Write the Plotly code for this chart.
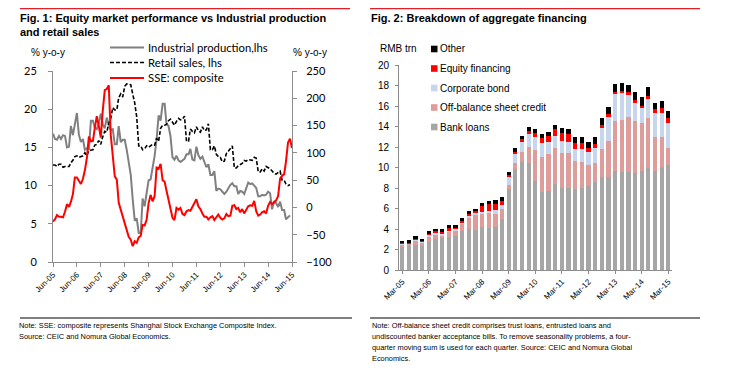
import plotly.graph_objects as go
import pandas as pd

# target page geometry (browser window) and the 8px page margin around the figure
W, H = 732, 389
OFF = 8
FW, FH = W - 2 * OFF, H - 2 * OFF

# ---------------- Fig. 1 data (monthly, Jun-05 .. Jun-15) ----------------
months = pd.date_range("2005-06-01", "2015-06-01", freq="MS")

industrial_production = [
    16.8, 16.1, 16.0, 16.5, 16.1, 16.6, 16.5,                                   # 2005 Jun-Dec
    15.0, 15.1, 17.8, 16.6, 17.9, 19.5, 16.7, 15.7, 16.1, 14.7, 14.9, 14.7,     # 2006
    18.5, 18.5, 17.6, 17.4, 18.1, 19.4, 18.0, 17.5, 18.9, 17.9, 17.3, 17.4,     # 2007
    15.4, 15.4, 17.8, 15.7, 16.0, 16.0, 14.7, 12.8, 11.4, 8.2, 5.4, 5.7,        # 2008
    3.8, 3.8, 8.3, 7.3, 8.9, 10.7, 10.8, 12.3, 13.9, 16.1, 19.2, 18.5,          # 2009
    20.7, 20.7, 18.1, 17.8, 16.5, 13.7, 13.4, 13.9, 13.3, 13.1, 13.3, 13.5,     # 2010
    14.1, 14.1, 14.8, 13.4, 13.3, 15.1, 14.0, 13.5, 13.8, 13.2, 12.4, 12.8,     # 2011
    11.4, 11.4, 11.9, 9.3, 9.6, 9.5, 9.2, 8.9, 9.2, 9.6, 10.1, 10.3,            # 2012
    9.9, 9.9, 8.9, 9.3, 9.2, 8.9, 9.7, 10.4, 10.2, 10.3, 10.0, 9.7,             # 2013
    8.6, 8.6, 8.8, 8.7, 8.8, 9.2, 9.0, 6.9, 8.0, 7.7, 7.2, 7.9,                 # 2014
    6.8, 6.8, 5.6, 5.9, 6.1, None,                                              # 2015 Jan-Jun
]

retail_sales = [
    12.7, 12.7, 12.5, 12.8, 12.8, 12.4, 12.5,
    12.5, 12.5, 13.0, 13.3, 13.8, 13.9, 13.7, 13.8, 13.9, 14.3, 13.9, 14.6,
    14.7, 14.7, 15.3, 15.4, 15.9, 15.4, 16.4, 17.1, 17.0, 18.1, 18.8, 20.2,
    19.9, 19.9, 21.5, 22.0, 21.6, 23.0, 23.3, 23.2, 23.2, 22.0, 20.8, 19.0,
    15.2, 15.2, 14.7, 14.8, 15.2, 15.0, 15.2, 15.4, 15.3, 16.2, 15.8, 17.5,
    17.9, 17.9, 18.0, 18.5, 18.7, 18.3, 17.9, 18.4, 18.8, 18.6, 18.7, 19.1,
    15.8, 15.8, 17.4, 17.1, 16.9, 17.7, 17.2, 17.0, 17.7, 17.2, 17.3, 18.1,
    14.7, 14.7, 15.2, 14.1, 13.8, 13.7, 13.1, 13.2, 14.2, 14.5, 14.9, 15.2,
    12.3, 12.3, 12.6, 12.8, 12.9, 13.3, 13.2, 13.4, 13.3, 13.3, 13.7, 13.6,
    11.8, 11.8, 12.2, 11.9, 12.5, 12.4, 12.2, 11.9, 11.6, 11.5, 11.7, 11.9,
    10.7, 10.7, 10.2, 10.0, 10.1, None,
]

sse_composite = [
    -26, -22, -14, -17, -17, -18, -8,
    6, 1, 10, 24, 55, 55, 49, 43, 52, 68, 91, 130,
    121, 122, 145, 167, 150, 128, 177, 215, 217, 224, 132, 97,
    57, 51, 9, -4, -16, -28, -38, -54, -59, -71, -62, -65,
    -55, -52, -32, -33, -23, 8, 23, 11, 21, 73, 71, 80,
    50, 47, 31, 16, -2, -19, -23, -1, -4, -1, -12, -14,
    -7, -5, -6, 1, 6, 15, 2, -3, -11, -17, -17, -22,
    -18, -16, -23, -18, -13, -19, -22, -20, -12, -16, -15, 3,
    4, -3, -1, -9, -3, -11, -5, 2, 4, 3, 12, -7,
    -15, -13, -9, -7, -11, 3, 10, 6, 9, 13, 21, 53,
    58, 61, 84, 119, 126, 109,
]

left_tick_labels = ["Jun-05", "Jun-06", "Jun-07", "Jun-08", "Jun-09", "Jun-10",
                    "Jun-11", "Jun-12", "Jun-13", "Jun-14", "Jun-15"]

# ---------------- Fig. 2 data (quarterly, Mar-05 .. Mar-15, RMB trn) ----------------
quarters = list(range(1, 42))
bank_loans = [2.28, 2.34, 2.47, 2.34, 2.83, 3.06, 3.15, 3.19, 3.35, 3.84, 4.0, 3.9, 4.2, 4.13,
              4.16, 4.94, 7.87, 9.82, 10.57, 10.41, 8.72, 7.58, 7.71, 8.36, 7.97, 8.03, 7.9,
              7.97, 8.2, 8.62, 9.04, 9.1, 9.69, 9.59, 9.59, 9.43, 9.69, 9.92, 9.69, 10.02, 10.24]
off_balance = [0.22, 0.23, 0.39, 0.33, 0.36, 0.32, 0.2, 0.55, 0.45, 0.65, 1.05, 1.45, 1.3, 1.4,
               1.3, 0.98, 0.45, 0.59, 0.97, 1.62, 2.99, 3.48, 3.57, 3.57, 3.41, 3.35, 2.77,
               2.6, 2.04, 1.78, 2.73, 3.52, 4.88, 5.04, 5.3, 5.14, 4.62, 4.88, 3.31, 2.92, 1.63]
corporate_bond = [0.05, 0.05, 0.1, 0.1, 0.23, 0.29, 0.25, 0.16, 0.2, 0.19, 0.2, 0.2, 0.17, 0.26,
                  0.44, 0.42, 0.8, 0.97, 0.98, 1.24, 1.23, 1.3, 1.24, 1.14, 1.24, 1.14, 1.13,
                  1.2, 1.3, 1.53, 2.12, 2.28, 2.57, 2.61, 2.18, 1.76, 1.46, 1.85, 2.35, 2.41, 2.44]
equity_financing = [0.05, 0.05, 0.07, 0.04, 0.1, 0.1, 0.1, 0.17, 0.13, 0.13, 0.25, 0.25, 0.6, 0.65,
                    0.5, 0.42, 0.17, 0.16, 0.23, 0.32, 0.46, 0.55, 0.55, 0.65, 0.71, 0.75, 0.56,
                    0.65, 0.33, 0.36, 0.26, 0.3, 0.26, 0.26, 0.26, 0.26, 0.23, 0.33, 0.32, 0.42, 0.49]
other = [0.26, 0.26, 0.25, 0.25, 0.28, 0.23, 0.27, 0.29, 0.26, 0.23, 0.22, 0.2, 0.28, 0.3,
         0.43, 0.33, 0.3, 0.33, 0.32, 0.39, 0.32, 0.33, 0.43, 0.43, 0.49, 0.49, 0.58,
         0.52, 0.65, 0.65, 0.65, 0.67, 0.71, 0.7, 0.75, 0.81, 0.85, 0.84, 0.66, 0.75, 0.74]
right_tick_labels = ["Mar-05", "Mar-06", "Mar-07", "Mar-08", "Mar-09", "Mar-10",
                     "Mar-11", "Mar-12", "Mar-13", "Mar-14", "Mar-15"]


def px(x):
    """window pixel x -> paper fraction"""
    return (x - OFF) / FW


def py(y):
    """window pixel y (from top) -> paper fraction"""
    return 1 - (y - OFF) / FH


AX = "#8C8C8C"
ARIAL = "Liberation Sans, Arial, sans-serif"
CAL = "Lato, sans-serif"

fig = go.Figure()

fig.add_trace(go.Scatter(x=months, y=industrial_production, mode="lines",
                         line=dict(color="#808080", width=2), xaxis="x", yaxis="y",
                         name="Industrial production,lhs"))
fig.add_trace(go.Scatter(x=months, y=retail_sales, mode="lines",
                         line=dict(color="#000000", width=1.6, dash="4px,2px"), xaxis="x", yaxis="y",
                         name="Retail sales, lhs"))
fig.add_trace(go.Scatter(x=months, y=sse_composite, mode="lines",
                         line=dict(color="#FF0000", width=2), xaxis="x", yaxis="y2",
                         name="SSE: composite"))

bar_series = [
    ("Bank loans", bank_loans, "#A6A6A6"),
    ("Off-balance sheet credit", off_balance, "#DE9C9A"),
    ("Corporate bond", corporate_bond, "#C6D6EE"),
    ("Equity financing", equity_financing, "#FF0000"),
    ("Other", other, "#000000"),
]
for name, vals, col in bar_series:
    fig.add_trace(go.Bar(x=quarters, y=vals, name=name, marker=dict(color=col, line=dict(width=0)),
                         xaxis="x3", yaxis="y3"))

axis_common = dict(showgrid=False, zeroline=False, showline=True, linecolor=AX, linewidth=1,
                   ticks="outside", tickcolor=AX, ticklen=4, tickwidth=1, automargin=False)

tick_dates = [months[i] for i in range(0, 121, 12)]

fig.update_layout(
    width=FW, height=FH, margin=dict(l=0, r=0, t=0, b=0, pad=0, autoexpand=False),
    paper_bgcolor="white", plot_bgcolor="white", showlegend=False,
    barmode="stack", bargap=0.36,
    xaxis=dict(axis_common, domain=[px(53), px(292)], anchor="y", type="date",
               range=[months[0], months[-1]], tickvals=tick_dates, ticktext=left_tick_labels,
               tickangle=-45, tickfont=dict(family=ARIAL, size=8, color="black")),
    yaxis=dict(axis_common, domain=[py(262), py(71)], anchor="x", range=[0, 25], dtick=5,
               tickfont=dict(family=CAL, size=11, color="black"), ticklabelstandoff=9),
    yaxis2=dict(axis_common, overlaying="y", side="right", anchor="x", range=[-100, 250], dtick=50,
                tickfont=dict(family=CAL, size=11, color="black"), ticklabelstandoff=7),
    xaxis3=dict(axis_common, domain=[px(399), px(671.6)], anchor="y3", range=[0.5, 41.5],
                tickvals=quarters[::4], ticktext=right_tick_labels, tickangle=-45,
                tickfont=dict(family=ARIAL, size=8, color="black"), ticklen=3),
    yaxis3=dict(axis_common, domain=[py(270), py(65)], anchor="x3", range=[0, 20], dtick=2,
                tickfont=dict(family=ARIAL, size=10, color="black"), ticklen=3, ticklabelstandoff=4),
)

shapes = []
annos = []


def text(x, y, s, size, family=ARIAL, bold=False, xanchor="left"):
    annos.append(dict(x=px(x), y=py(y), xref="paper", yref="paper", text=("<b>%s</b>" % s) if bold else s,
                      showarrow=False, xanchor=xanchor, yanchor="middle", borderpad=0,
                      font=dict(family=family, size=size, color="black")))


def hline(x0, x1, y, color, width=1, dash=None):
    shapes.append(dict(type="line", xref="paper", yref="paper", x0=px(x0), x1=px(x1), y0=py(y), y1=py(y),
                       line=dict(color=color, width=width, dash=dash)))


# top red rules and bottom black rules
hline(20, 350, 8.7, "#E31E24", 1.2)
hline(370, 700, 8.7, "#E31E24", 1.2)
hline(20, 352, 318, "#000000", 1)
hline(370, 700, 318, "#000000", 1)

# titles
text(19, 18, "Fig. 1: Equity market performance vs Industrial production", 11, bold=True)
text(19, 32, "and retail sales", 11, bold=True)
text(370, 18, "Fig. 2: Breakdown of aggregate financing", 11, bold=True)

# axis unit labels
text(30, 53, "% y-o-y", 10)
text(292, 53, "% y-o-y", 10)
text(379, 49, "RMB trn", 10)

# Fig. 1 legend
hline(110, 144, 47.5, "#808080", 2)
hline(110, 144, 62.5, "#000000", 1.6, "4px,2px")
hline(110, 144, 78, "#FF0000", 2)
text(147, 47.5, "Industrial production,lhs", 11.3, CAL)
text(147, 62.5, "Retail sales, lhs", 11.3, CAL)
text(147, 77.5, "SSE: composite", 11.3, CAL)

# Fig. 2 legend
leg = [("Other", "#000000", 49), ("Equity financing", "#FF0000", 68.5), ("Corporate bond", "#C6D6EE", 88),
       ("Off-balance sheet credit", "#DE9C9A", 107.5), ("Bank loans", "#A6A6A6", 127)]
for name, col, yy in leg:
    shapes.append(dict(type="rect", xref="paper", yref="paper", x0=px(431), x1=px(437.5),
                       y0=py(yy + 3.3), y1=py(yy - 3.3), fillcolor=col, line=dict(width=0)))
    text(438.5, yy, name, 10)

# notes
text(18, 325, "Note: SSE: composite represents Shanghai Stock Exchange Composite Index.", 7.4)
text(18, 336, "Source: CEIC and Nomura Global Economics.", 7.4)
notes2 = ["Note: Off-balance sheet credit comprises trust loans, entrusted loans and",
          "undiscounted banker acceptance bills. To remove seasonality problems, a four-",
          "quarter moving sum is used for each quarter. Source: CEIC and Nomura Global",
          "Economics."]
for i, s in enumerate(notes2):
    text(371, 325 + 11 * i, s, 7.4)

fig.update_layout(shapes=shapes, annotations=annos)
fig.write_html("out.html")
